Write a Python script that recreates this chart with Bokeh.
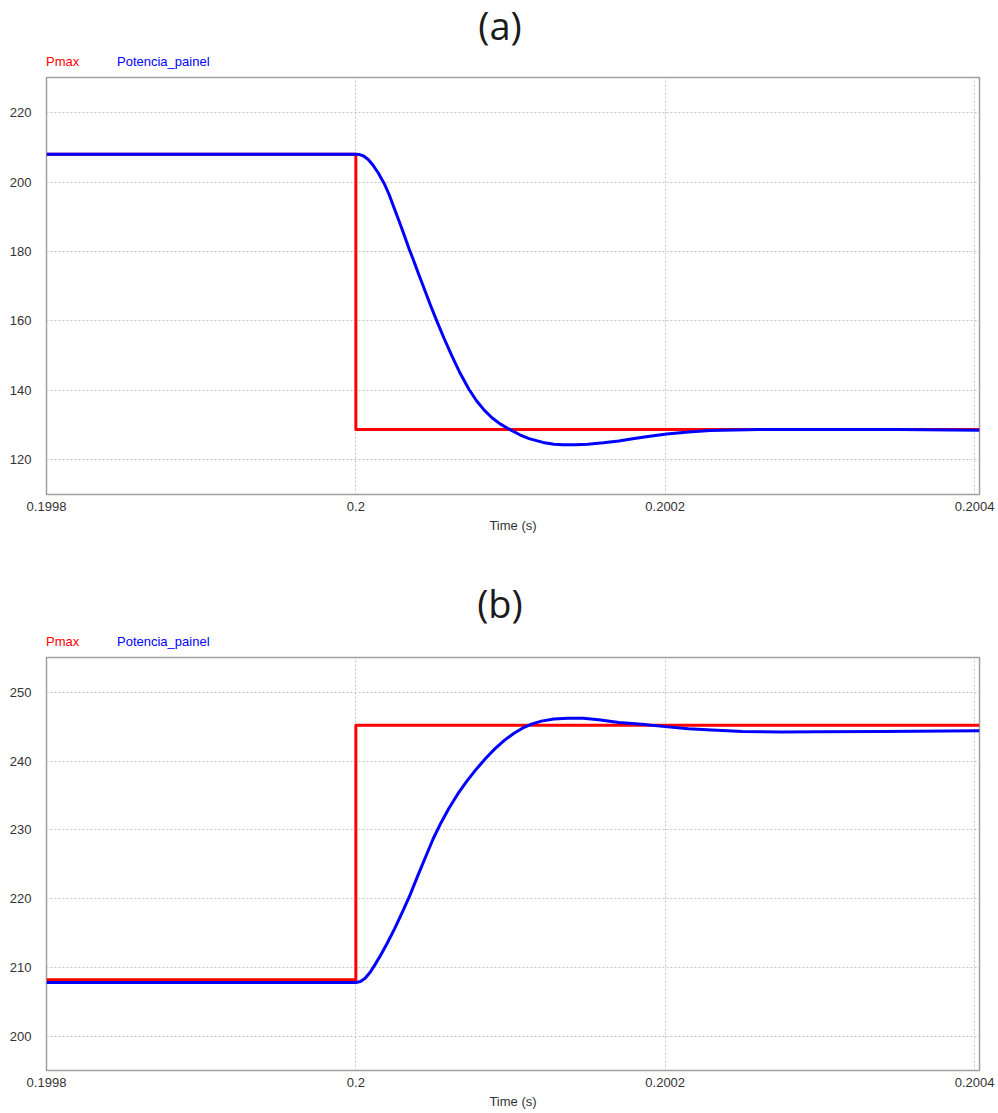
from bokeh.plotting import figure
from bokeh.models import Range1d, FixedTicker, CustomJSTickFormatter, Div
from bokeh.layouts import column
from bokeh.embed import file_html
from bokeh.resources import INLINE

# ---------------- data ----------------
T_STEP = 0.2
X_START = 0.1998
X_END = 0.2004032
x_ticks = [0.1998, 0.2, 0.2002, 0.2004]
series_names = ["Pmax", "Potencia_painel"]
panel_titles = ["(a)", "(b)"]

# panel (a)
pmax_a_t = [X_START, T_STEP, T_STEP, X_END]
pmax_a_v = [208.0, 208.0, 128.7, 128.7]
blue_a_us = [-200, 0, 2.5, 5, 8, 11, 14.5, 18.3, 21.5, 24.5, 28, 31, 34.4, 37.4, 40.5, 43.9,
             48, 52.3, 57, 62, 67, 73.1, 78, 83, 88, 93, 100, 106, 112, 121, 128, 134, 142,
             150, 160, 170, 180, 190, 201, 215, 229, 245, 261, 300, 350, 403.2]
blue_a_v = [208, 208, 207.9, 207.5, 206.5, 204.9, 202.6, 199.6, 196.4, 192.8, 188.7, 185, 180.8,
            177.3, 173.6, 169.6, 164.8, 160, 155, 150, 145.3, 140.3, 137, 134.3, 132.1, 130.4,
            128.6, 127.2, 126.1, 125, 124.5, 124.3, 124.3, 124.5, 124.9, 125.4, 126.1, 126.8,
            127.4, 128, 128.4, 128.6, 128.7, 128.75, 128.7, 128.5]
y_ticks_a = [120, 140, 160, 180, 200, 220]

# panel (b)
pmax_b_t = [X_START, T_STEP, T_STEP, X_END]
pmax_b_v = [208.2, 208.2, 245.2, 245.2]
blue_b_us = [-200, 0, 3, 6, 9, 12, 16, 20, 25, 30, 35, 40, 45, 50, 55, 60, 66, 72, 78, 84, 90,
             96, 102, 108, 114, 120, 128, 137, 147, 157, 170, 185, 200, 215, 230, 250, 275,
             300, 340, 403.2]
blue_b_v = [207.8, 207.8, 207.95, 208.4, 209.2, 210.25, 211.75, 213.4, 215.6, 218.0, 220.5,
            223.3, 226.0, 228.7, 231.0, 233.05, 235.25, 237.15, 238.85, 240.4, 241.8, 243.0,
            244.0, 244.8, 245.4, 245.8, 246.1, 246.2, 246.2, 246.0, 245.6, 245.35, 245.0,
            244.7, 244.5, 244.3, 244.2, 244.25, 244.3, 244.4]
y_ticks_b = [200, 210, 220, 230, 240, 250]

RED = "#ff0000"
BLUE = "#0000ff"
FONT = "Liberation Sans"
PAGE_W = 995


def header(title, height, title_top, legend_top):
    html = (
        f'<div style="position:relative;width:{PAGE_W}px;height:{height}px;">'
        f'<div style="position:absolute;left:0;top:{title_top}px;width:{PAGE_W}px;'
        f'box-sizing:border-box;padding-left:5px;text-align:center;'
        f"font-family:'Open Sans';font-size:38px;line-height:44px;color:#1a1a1a;\">{title}</div>"
        f'<span style="position:absolute;left:46px;top:{legend_top}px;'
        f"font-family:'{FONT}';font-size:13px;line-height:13px;color:{RED};\">{series_names[0]}</span>"
        f'<span style="position:absolute;left:117px;top:{legend_top}px;'
        f"font-family:'{FONT}';font-size:13px;line-height:13px;color:{BLUE};\">{series_names[1]}</span>"
        '</div>'
    )
    return Div(text=html, width=PAGE_W, height=height, margin=(0, 0, 0, 0))


def make_panel(pmax_t, pmax_v, blue_us, blue_v, y_ticks, y0, y1, height, top, bottom):
    p = figure(width=PAGE_W, height=height, output_backend="svg", toolbar_location=None,
               title=None,
               x_range=Range1d(X_START, X_END), y_range=Range1d(y0, y1),
               min_border_left=46, min_border_right=PAGE_W - 979,
               min_border_top=top, min_border_bottom=bottom)

    bt = [T_STEP + u * 1e-6 for u in blue_us]
    p.line(pmax_t, pmax_v, line_color=RED, line_width=3, line_join="round")
    p.line(bt, blue_v, line_color=BLUE, line_width=3, line_join="round")

    for ax in (p.xaxis[0], p.yaxis[0]):
        ax.axis_line_color = None
        ax.major_tick_line_color = None
        ax.minor_tick_line_color = None
        ax.major_tick_out = 0
        ax.major_tick_in = 0
        ax.major_label_text_font = FONT
        ax.major_label_text_font_size = "13px"
        ax.major_label_text_color = "#333333"

    p.xaxis.ticker = FixedTicker(ticks=x_ticks)
    p.xaxis.formatter = CustomJSTickFormatter(code="return String(parseFloat(tick.toFixed(6)));")
    p.xaxis.major_label_standoff = 7
    p.xaxis.axis_label = "Time (s)"
    p.xaxis.axis_label_text_font = FONT
    p.xaxis.axis_label_text_font_size = "13px"
    p.xaxis.axis_label_text_font_style = "normal"
    p.xaxis.axis_label_text_color = "#333333"
    p.xaxis.axis_label_standoff = 4

    p.yaxis.ticker = FixedTicker(ticks=y_ticks)
    p.yaxis.major_label_standoff = 15

    p.grid.grid_line_color = "#c4c4c4"
    p.grid.grid_line_dash = "2 2"
    p.grid.grid_line_width = 1

    p.outline_line_color = "#a0a0a0"
    p.outline_line_width = 1.5
    return p


head_a = header(panel_titles[0], 70, 3, 55)
pa = make_panel(pmax_a_t, pmax_a_v, blue_a_us, blue_a_v, y_ticks_a, 110, 230.1,
                height=470, top=7, bottom=46)
head_b = header(panel_titles[1], 110, 41, 95)
pb = make_panel(pmax_b_t, pmax_b_v, blue_b_us, blue_b_v, y_ticks_b, 195, 255.05,
                height=461, top=7, bottom=40)

layout = column(head_a, pa, head_b, pb)
open("out.html", "w").write(file_html(layout, INLINE))
